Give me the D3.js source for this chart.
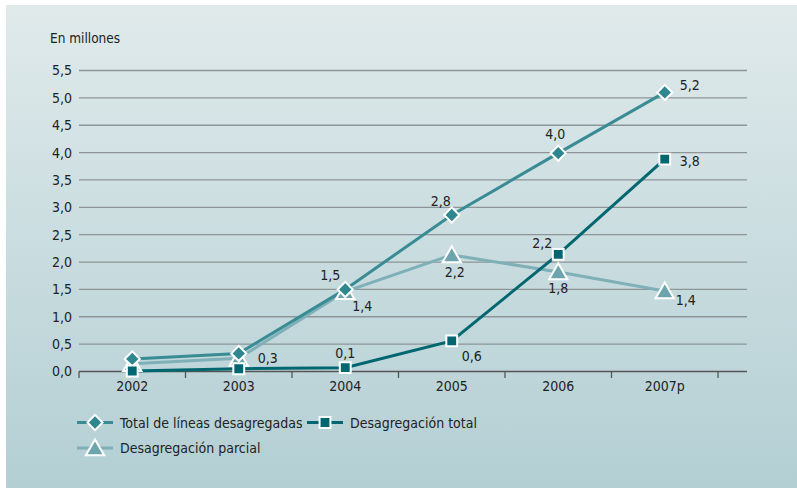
<!DOCTYPE html>
<html>
<head>
<meta charset="utf-8">
<script src="https://cdn.jsdelivr.net/npm/d3@7"></script>
<style>
	body{margin:0;background:#fff;}
	svg text{font-family:"DejaVu Sans Condensed",Roboto,sans-serif;fill:#222;}
</style>
</head>
<body>
<svg id="graf" width="797" height="488"></svg>
<script>
// datos
var anios = ["2002","2003","2004","2005","2006","2007p"];
var totalLineas = [0.23, 0.33, 1.5, 2.86, 3.99, 5.1];
var desTotal = [0.01, 0.05, 0.07, 0.56, 2.14, 3.88];
var desParcial = [0.14, 0.24, 1.46, 2.13, 1.82, 1.47];
var etqTotal = [null, "0,3", "1,5", "2,8", "4,0", "5,2"];
var etqDesTotal = [null, null, "0,1", "0,6", "2,2", "3,8"];
var etqParcial = [null, null, "1,4", "2,2", "1,8", "1,4"];
var ticksY = [0,0.5,1,1.5,2,2.5,3,3.5,4,4.5,5,5.5];

var svg = d3.select('#graf');
var fs = '14px';

// fondo degradado
var defs = svg.append('defs');
var grad = defs.append('linearGradient').attr('id','fondo').attr('x1',0).attr('y1',0).attr('x2',0).attr('y2',1);
grad.append('stop').attr('offset','0%').attr('stop-color','#e0eaeb');
grad.append('stop').attr('offset','100%').attr('stop-color','#b3cfd4');
svg.append('rect').attr('x',6).attr('y',5).attr('width',791).attr('height',483).attr('fill','url(#fondo)');

var x = d3.scaleBand().domain(anios).range([79,718]);
var y = d3.scaleLinear().domain([0,5.5]).range([371.5,70.5]);

var fmt = function(d){ return d3.format('.1f')(d).replace('.',','); };

// rejilla
svg.append('g').selectAll('line').data(ticksY.slice(1)).enter().append('line')
	.attr('x1',79).attr('x2',747)
	.attr('y1',function(d){return y(d);}).attr('y2',function(d){return y(d);})
	.attr('stroke','#8d9597').attr('stroke-width',1.3);

// eje y
var ejeY = svg.append('g').attr('transform','translate(79,0)')
	.call(d3.axisLeft(y).tickValues(ticksY).tickFormat(fmt).tickSize(0).tickPadding(7));
ejeY.select('.domain').remove();
ejeY.selectAll('text').style('font-size',fs).attr('fill','#222');

// eje x
var ejeX = svg.append('g').attr('transform','translate(0,371.5)')
	.call(d3.axisBottom(x).tickSize(0).tickPadding(10));
ejeX.select('.domain').remove();
ejeX.selectAll('text').style('font-size',fs).attr('fill','#222');
svg.append('line').attr('x1',79).attr('x2',747).attr('y1',371.5).attr('y2',371.5)
	.attr('stroke','#555').attr('stroke-width',1.3);
var bordes = anios.map(function(a){return x(a);}).concat([x.range()[1]]);
svg.append('g').selectAll('line').data(bordes).enter().append('line')
	.attr('x1',function(d){return d;}).attr('x2',function(d){return d;})
	.attr('y1',371.5).attr('y2',378).attr('stroke','#555').attr('stroke-width',1.3);

svg.append('text').attr('x',50).attr('y',43).style('font-size','13.5px').text('En millones');

var cx = function(d,i){ return x(anios[i]) + x.bandwidth()/2; };

var linea = d3.line().x(function(d,i){return cx(d,i);}).y(function(d){return y(d);});

var series = [
	{v:desParcial, col:'#7fb0b8', fill:'#6ea4ad', sim:d3.symbolTriangle, tam:145, rot:0, dy:2, etq:etqParcial},
	{v:totalLineas, col:'#3a8c94', fill:'#2e868e', sim:d3.symbolSquare, tam:115, rot:45, dy:0, etq:etqTotal},
	{v:desTotal, col:'#006770', fill:'#006770', sim:d3.symbolSquare, tam:118, rot:0, dy:0, etq:etqDesTotal}
];

series.forEach(function(s){
	svg.append('path').datum(s.v).attr('d',linea)
		.attr('fill','none').attr('stroke',s.col).attr('stroke-width',3);
});
series.forEach(function(s){
	svg.append('g').selectAll('path').data(s.v).enter().append('path')
		.attr('d',d3.symbol().type(s.sim).size(s.tam))
		.attr('transform',function(d,i){ return 'translate('+cx(d,i)+','+(y(d)+s.dy)+') rotate('+s.rot+')'; })
		.attr('fill',s.fill).attr('stroke','#fff').attr('stroke-width',2);
});

// etiquetas de valores (desplazamiento por punto)
var despTotal = [null,[29,5],[-15,-14],[-11,-14],[-3,-19],[25,-7]];
var despDesTotal = [null,null,[0,-15],[20,15],[-16,-11],[25,2]];
var despParcial = [null,null,[17,14],[3,17],[0,16],[21,9]];
var desp = [despParcial, despTotal, despDesTotal];
series.forEach(function(s,k){
	svg.append('g').selectAll('text').data(s.v).enter()
		.filter(function(d,i){ return s.etq[i]!==null; })
		.append('text')
		.attr('x',function(d){ var i=s.v.indexOf(d); return cx(d,i)+desp[k][i][0]; })
		.attr('y',function(d){ var i=s.v.indexOf(d); return y(d)+desp[k][i][1]+5; })
		.attr('text-anchor','middle').style('font-size',fs)
		.text(function(d){ return s.etq[s.v.indexOf(d)]; });
});

// leyenda
var leyenda = [
	{n:'Total de líneas desagregadas', s:series[1], x:77, y:422.5},
	{n:'Desagregación total', s:series[2], x:307, y:422.5},
	{n:'Desagregación parcial', s:series[0], x:77, y:448}
];
var lg = svg.append('g').selectAll('g').data(leyenda).enter().append('g')
	.attr('transform',function(d){return 'translate('+d.x+','+d.y+')';});
lg.append('line').attr('x1',0).attr('x2',36).attr('stroke',function(d){return d.s.col;}).attr('stroke-width',3);
lg.append('path').attr('transform',function(d){return 'translate(18,'+d.s.dy+') rotate('+d.s.rot+')';})
	.attr('d',function(d){return d3.symbol().type(d.s.sim).size(d.s.tam)();})
	.attr('fill',function(d){return d.s.fill;}).attr('stroke','#fff').attr('stroke-width',2);
lg.append('text').attr('x',43).attr('y',5).style('font-size',fs).text(function(d){return d.n;});
</script>
</body>
</html>
